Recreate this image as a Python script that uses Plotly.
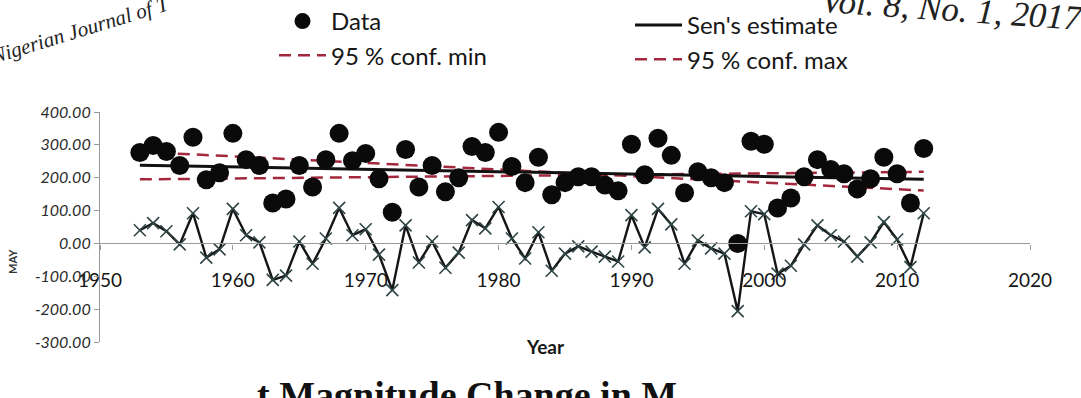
import plotly.graph_objects as go

# ---------------- data ----------------
years = list(range(1953, 2013))
may_data = [277, 298, 280, 237, 323, 194, 215, 335, 255, 237,
            123, 135, 237, 172, 255, 335, 252, 274, 197, 95,
            286, 172, 237, 157, 200, 295, 277, 338, 234, 185,
            262, 148, 185, 203, 203, 178, 160, 302, 209, 320,
            268, 154, 218, 200, 185, 0, 311, 302, 108, 138,
            203, 255, 225, 212, 166, 197, 262, 212, 123, 289]
residuals = [40, 62, 37, -3, 92, -43, -18, 105, 25, 3,
             -111, -98, 6, -62, 15, 108, 25, 43, -34, -142,
             55, -58, 6, -74, -28, 71, 46, 111, 15, -46,
             34, -83, -31, -9, -25, -40, -55, 86, -12, 105,
             58, -62, 9, -15, -31, -206, 98, 89, -92, -68,
             -3, 55, 25, 6, -40, 3, 65, 12, -72, 92]
trend_years = [1953, 2012]
sen_estimate = [238, 195]
conf_min = [279, 161]
conf_max = [195, 218]

x_ticks = [1950, 1960, 1970, 1980, 1990, 2000, 2010, 2020]
y_ticks = [-300, -200, -100, 0, 100, 200, 300, 400]
y_tick_text = ["-300.00", "-200.00", "-100.00", "0.00", "100.00", "200.00", "300.00", "400.00"]

# ---------------- layout geometry (pixels) ----------------
W, H = 1081, 398
ML, MR, MT, MB = 100, 51, 112, 56
PW, PH = W - ML - MR, H - MT - MB


def px(x):
    return (x - ML) / PW


def py(y):
    return (H - MB - y) / PH


FONT = "Lato, 'Open Sans', sans-serif"
SERIF = "Liberation Serif, DejaVu Serif, serif"
RED = "#a3283d"

fig = go.Figure()

fig.add_trace(go.Scatter(
    x=years, y=residuals, mode="lines+markers", showlegend=False,
    line=dict(color="#151515", width=2.4),
    marker=dict(symbol="x-thin", size=12, color="#2f4444",
                line=dict(color="#2f4444", width=1.6)),
))
fig.add_trace(go.Scatter(
    x=trend_years, y=conf_min, mode="lines", name="95 % conf. min",
    legend="legend", legendrank=2,
    line=dict(color=RED, width=2.5, dash="12px,7px"),
))
fig.add_trace(go.Scatter(
    x=trend_years, y=conf_max, mode="lines", name="95 % conf. max",
    legend="legend2", legendrank=2,
    line=dict(color=RED, width=2.5, dash="12px,7px"),
))
fig.add_trace(go.Scatter(
    x=trend_years, y=sen_estimate, mode="lines", name="Sen's estimate",
    legend="legend2", legendrank=1,
    line=dict(color="#111111", width=3),
))
fig.add_trace(go.Scatter(
    x=years, y=may_data, mode="markers", name="Data",
    legend="legend", legendrank=1,
    marker=dict(symbol="circle", size=19, color="#0a0a0a"),
))

fig.update_layout(
    width=W, height=H,
    margin=dict(l=ML, r=MR, t=MT, b=MB, autoexpand=False),
    paper_bgcolor="white", plot_bgcolor="white",
    font=dict(family=FONT, color="#1a1a1a"),
    xaxis=dict(
        range=[1950, 2020], tickvals=x_ticks, ticktext=[str(v) for v in x_ticks],
        anchor="free", position=300 / 700,
        showgrid=False, zeroline=False,
        showline=True, linecolor="#9a9a9a", linewidth=1.2,
        ticks="outside", ticklen=5, tickcolor="#9a9a9a",
        ticklabelstandoff=15,
        tickfont=dict(size=19, color="#161616"),
    ),
    yaxis=dict(
        range=[-300, 400], tickvals=y_ticks, ticktext=y_tick_text,
        showgrid=False, zeroline=False,
        showline=True, linecolor="#9a9a9a", linewidth=1.2,
        ticks="outside", ticklen=5, tickcolor="#9a9a9a",
        tickfont=dict(size=16, color="#2a2a2a", style="italic"),
    ),
    legend=dict(
        x=px(274), y=py(-1), xanchor="left", yanchor="top",
        orientation="v", bgcolor="rgba(0,0,0,0)", itemwidth=47,
        font=dict(size=24, color="#161616"), tracegroupgap=0,
    ),
    legend2=dict(
        x=px(630), y=py(3), xanchor="left", yanchor="top",
        orientation="v", bgcolor="rgba(0,0,0,0)", itemwidth=47,
        font=dict(size=24, color="#161616"), tracegroupgap=5,
    ),
    annotations=[
        dict(text="<b>Year</b>", x=px(545), y=py(346), xref="paper", yref="paper",
             xanchor="center", yanchor="middle",
             showarrow=False, font=dict(size=19, color="#161616")),
        dict(text="<b>MAY</b>", x=px(12), y=py(262), xref="paper", yref="paper",
             xanchor="center", yanchor="middle",
             showarrow=False, textangle=-90, font=dict(size=11, color="#333")),
        dict(text="Nigerian Journal of T", x=px(80), y=py(30), xref="paper", yref="paper",
             xanchor="center", yanchor="middle",
             showarrow=False, textangle=-17,
             font=dict(family=SERIF, size=21, color="#222", style="italic")),
        dict(text="Vol. 8, No. 1, 2017", x=px(1086), y=py(10), xref="paper", yref="paper",
             xanchor="right", yanchor="middle",
             showarrow=False, textangle=4,
             font=dict(family=SERIF, size=35, color="#222", style="italic")),
        dict(text="<b>t Magnitude Change in M</b>", x=px(255), y=py(372), xref="paper", yref="paper",
             xanchor="left", yanchor="top", showarrow=False,
             font=dict(family=SERIF, size=38, color="#111")),
    ],
)

fig.write_html("out.html")
